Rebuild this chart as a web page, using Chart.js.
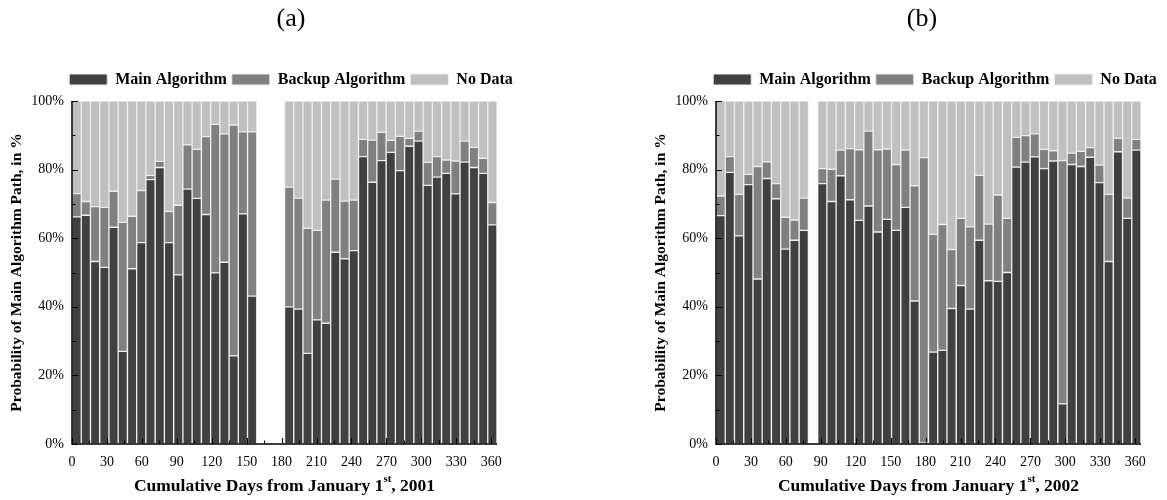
<!DOCTYPE html>
<html>
<head>
<meta charset="utf-8">
<script src="https://cdn.jsdelivr.net/npm/chart.js@4.4.1/dist/chart.umd.min.js"></script>
<style>
  html, body { margin: 0; padding: 0; background: #fff; overflow: hidden; }
  body { width: 1167px; height: 500px; position: relative; }
  .panel { position: absolute; top: 0; width: 582px; height: 500px; }
  #panel-a { left: 0; }
  #panel-b { left: 644px; }
</style>
</head>
<body>
<div class="panel" id="panel-a"><canvas id="chart-a" width="582" height="500"></canvas></div>
<div class="panel" id="panel-b"><canvas id="chart-b" width="582" height="500"></canvas></div>
<script>
// series names and colours
const seriesNames = ["Main Algorithm", "Backup Algorithm", "No Data"];
const seriesColors = ["#404040", "#808080", "#c0c0c0"];

// x tick labels (days) and the centre day of each of the 46 bins
const dayTicks = [0, 30, 60, 90, 120, 150, 180, 210, 240, 270, 300, 330, 360];
const binDays = [4.0, 11.9, 19.8, 27.8, 35.7, 43.6, 51.6, 59.5, 67.4, 75.4,
                 83.3, 91.3, 99.2, 107.1, 115.1, 123.0, 130.9, 138.9, 146.8, 154.7,
                 162.7, 170.6, 178.5, 186.5, 194.4, 202.3, 210.3, 218.2, 226.1, 234.1,
                 242.0, 250.0, 257.9, 265.8, 273.8, 281.7, 289.6, 297.6, 305.5, 313.4,
                 321.4, 329.3, 337.2, 345.2, 353.1, 361.0];

// panel (a), 2001, shares in %
const mainA = [66.2, 66.7, 53.2, 51.5, 63.2, 27.0, 51.1, 58.7, 77.1, 80.6,
               58.7, 49.3, 74.3, 71.6, 66.9, 49.9, 53.0, 25.7, 67.1, 43.1,
               null, null, null, 40.0, 39.3, 26.4, 36.2, 35.2, 55.9, 54.0,
               56.4, 83.8, 76.3, 82.6, 85.0, 79.7, 86.8, 88.3, 75.4, 77.8,
               78.9, 72.9, 82.2, 80.6, 78.9, 63.9];
const backupA = [6.8, 4.0, 16.0, 17.5, 10.5, 37.6, 15.3, 15.2, 1.2, 1.8,
                 9.1, 20.3, 12.9, 14.3, 22.7, 43.3, 37.4, 67.3, 23.9, 47.9,
                 null, null, null, 34.9, 32.4, 36.5, 26.1, 35.9, 21.3, 16.8,
                 14.7, 5.0, 12.3, 8.3, 3.5, 10.0, 2.3, 2.9, 6.7, 6.0,
                 3.9, 9.6, 6.1, 5.9, 4.4, 6.5];
const noDataA = [27.0, 29.3, 30.8, 31.0, 26.3, 35.4, 33.6, 26.1, 21.7, 17.6,
                 32.2, 30.4, 12.8, 14.1, 10.4, 6.8, 9.6, 7.0, 9.0, 9.0,
                 null, null, null, 25.1, 28.3, 37.1, 37.7, 28.9, 22.8, 29.2,
                 28.9, 11.2, 11.4, 9.1, 11.5, 10.3, 10.9, 8.8, 17.9, 16.2,
                 17.2, 17.5, 11.7, 13.5, 16.7, 29.6];

// panel (b), 2002, shares in %
const mainB = [66.6, 79.2, 60.7, 75.6, 48.1, 77.4, 71.5, 56.8, 59.4, 62.3,
               null, 75.9, 70.7, 78.2, 71.2, 65.2, 69.4, 61.8, 65.5, 62.3,
               69.0, 41.7, 0.3, 26.8, 27.3, 39.5, 46.2, 39.3, 59.4, 47.6,
               47.4, 50.0, 80.7, 82.2, 83.7, 80.3, 82.5, 11.7, 81.5, 80.9,
               83.6, 76.2, 53.2, 85.2, 65.8, 85.7];
const backupB = [5.7, 4.6, 12.1, 3.0, 32.8, 4.9, 4.4, 9.3, 5.9, 9.4,
                 null, 4.4, 9.4, 7.5, 14.9, 20.6, 21.8, 24.0, 20.5, 19.2,
                 16.7, 33.6, 83.2, 34.3, 36.7, 17.2, 19.6, 24.0, 18.9, 16.5,
                 25.2, 15.8, 8.7, 7.7, 6.7, 5.6, 3.0, 70.9, 3.3, 4.4,
                 2.8, 5.1, 19.6, 3.9, 5.9, 3.1];
const noDataB = [27.7, 16.2, 27.2, 21.4, 19.1, 17.7, 24.1, 33.9, 34.7, 28.3,
                 null, 19.7, 19.9, 14.3, 13.9, 14.2, 8.8, 14.2, 14.0, 18.5,
                 14.3, 24.7, 16.5, 38.9, 36.0, 43.3, 34.2, 36.7, 21.7, 35.9,
                 27.4, 34.2, 10.6, 10.1, 9.6, 14.1, 14.5, 17.4, 15.2, 14.7,
                 13.6, 18.7, 27.2, 10.9, 28.3, 11.2];

const serif = '"Liberation Serif", "Times New Roman", serif';

// legend sits a bit higher above the plot than Chart.js puts it
const legendGap = {
    id: "legendGap",
    beforeLayout(chart, args, opts) {
        const legend = chart.legend;
        if (legend && !legend._gapPatched) {
            const fit = legend.fit;
            legend.fit = function () {
                fit.call(this);
                this.height += opts.extra;
            };
            legend._gapPatched = true;
        }
    }
};

// nudge the panel label sideways
const titleShift = {
    id: "titleShift",
    afterLayout(chart, args, opts) {
        const t = chart.titleBlock;
        if (t && opts.dx) {
            t.left += opts.dx;
            t.right += opts.dx;
        }
    }
};

// black axes with inward major/minor ticks, drawn over the bars
const axisMarks = {
    id: "axisMarks",
    afterDatasetsDraw(chart) {
        const { ctx, chartArea, scales } = chart;
        const { left, right, top, bottom } = chartArea;
        ctx.save();
        ctx.strokeStyle = "#000";
        ctx.lineWidth = 1.5;
        ctx.beginPath();
        ctx.moveTo(left, top);
        ctx.lineTo(left, bottom);
        ctx.lineTo(right, bottom);
        ctx.stroke();

        ctx.lineWidth = 1;
        ctx.beginPath();
        for (let d = 0; d <= dayTicks[dayTicks.length - 1]; d += 15) {
            const px = Math.round(scales.x.getPixelForValue(d)) + 0.5;
            const len = d % 30 === 0 ? 6 : 3.5;
            ctx.moveTo(px, bottom);
            ctx.lineTo(px, bottom - len);
        }
        for (let p = 0; p <= 100; p += 10) {
            const py = Math.round(scales.y.getPixelForValue(p)) + 0.5;
            const len = p % 20 === 0 ? 6 : 3.5;
            ctx.moveTo(left, py);
            ctx.lineTo(left + len, py);
        }
        ctx.stroke();
        ctx.restore();
    }
};

// x axis title with a superscript ordinal
const dayTitle = {
    id: "dayTitle",
    afterDraw(chart, args, opts) {
        const { ctx, chartArea } = chart;
        const size = opts.size;
        const big = `bold ${size}px ${serif}`;
        const small = `bold ${Math.round(size * 0.6)}px ${serif}`;
        const parts = [
            [opts.before, big, 0],
            [opts.sup, small, -size * 0.38],
            [opts.after, big, 0]
        ];
        ctx.save();
        ctx.fillStyle = "#000";
        ctx.textBaseline = "middle";
        ctx.textAlign = "left";
        let total = 0;
        parts.forEach(([t, f]) => { ctx.font = f; total += ctx.measureText(t).width; });
        let x = (chartArea.left + chartArea.right) / 2 - total / 2;
        parts.forEach(([t, f, dy]) => {
            ctx.font = f;
            ctx.fillText(t, x, opts.y + dy);
            x += ctx.measureText(t).width;
        });
        ctx.restore();
    }
};

function makeChart(canvasId, panelLabel, labelShift, year, main, backup, noData) {
    const toPoints = values => binDays.map((d, i) => ({ x: d, y: values[i] }));
    const tickFont = { family: serif, size: 14 };

    return new Chart(document.getElementById(canvasId), {
        type: "bar",
        data: {
            datasets: [main, backup, noData].map((vals, i) => ({
                label: seriesNames[i],
                data: toPoints(vals),
                backgroundColor: seriesColors[i],
                borderColor: "#ececec",
                borderWidth: 1,
                borderSkipped: false,
                barPercentage: 1,
                categoryPercentage: 1
            }))
        },
        options: {
            responsive: false,
            animation: false,
            layout: { padding: 0 },
            scales: {
                x: {
                    type: "linear",
                    stacked: true,
                    min: 0,
                    max: 365,
                    offset: false,
                    grid: { display: false, drawTicks: false, offset: false },
                    border: { display: false },
                    afterBuildTicks: scale => {
                        scale.ticks = dayTicks.map(v => ({ value: v }));
                    },
                    ticks: {
                        autoSkip: false,
                        maxRotation: 0,
                        padding: 10,
                        color: "#000",
                        font: tickFont
                    },
                    afterFit: scale => { scale.height = 56; }
                },
                y: {
                    stacked: true,
                    min: 0,
                    max: 100,
                    grid: { display: false, drawTicks: false },
                    border: { display: false },
                    ticks: {
                        stepSize: 20,
                        padding: 8,
                        color: "#000",
                        font: tickFont,
                        callback: v => v + "%"
                    },
                    title: {
                        display: true,
                        text: "Probability of Main Algorithm Path, in %",
                        color: "#000",
                        font: { family: serif, size: 15.5, weight: "bold" },
                        padding: { top: 8, bottom: 0 }
                    },
                    afterFit: scale => { scale.width = 72; }
                },
                yRight: {
                    position: "right",
                    grid: { display: false, drawTicks: false },
                    border: { display: false },
                    ticks: { display: false },
                    afterFit: scale => { scale.width = 85; }
                }
            },
            plugins: {
                title: {
                    display: true,
                    text: panelLabel,
                    color: "#000",
                    font: { family: serif, size: 26, weight: "normal" },
                    padding: { top: 4, bottom: 31.3 }
                },
                legend: {
                    position: "top",
                    labels: {
                        boxWidth: 38,
                        boxHeight: 11,
                        padding: 5,
                        color: "#000",
                        font: { family: serif, size: 16, weight: "bold" }
                    }
                },
                tooltip: { enabled: false },
                legendGap: { extra: 3.5 },
                titleShift: { dx: labelShift },
                dayTitle: {
                    before: "Cumulative Days from January 1",
                    sup: "st",
                    after: ", " + year,
                    size: 17.5,
                    y: 486
                }
            }
        },
        plugins: [legendGap, titleShift, axisMarks, dayTitle]
    });
}

makeChart("chart-a", "(a)", 0, 2001, mainA, backupA, noDataA);
makeChart("chart-b", "(b)", -13, 2002, mainB, backupB, noDataB);
</script>
</body>
</html>
